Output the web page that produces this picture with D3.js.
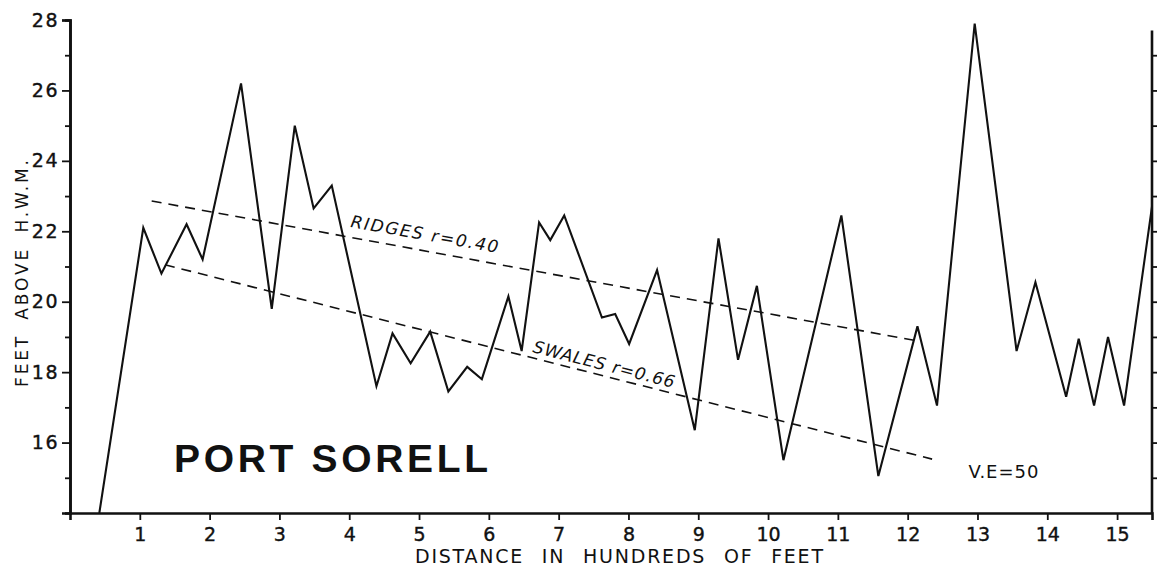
<!DOCTYPE html>
<html>
<head>
<meta charset="utf-8">
<script src="https://cdn.jsdelivr.net/npm/d3@7"></script>
<style>
	body { margin: 0; background: #fff; }
	text { font-family: "DejaVu Sans", sans-serif; fill: #111; }
</style>
</head>
<body>
<div id="wrapper"></div>
<script>
// profile surveyed across the beach ridges, in hundreds of feet / feet above H.W.M.
const distance = [0.42, 1.05, 1.31, 1.67, 1.90, 2.45, 2.89, 3.22, 3.49, 3.75, 4.39, 4.62, 4.88, 5.16, 5.42, 5.69, 5.90, 6.28, 6.47, 6.72, 6.88, 7.08, 7.62, 7.81, 8.01, 8.41, 8.95, 9.29, 9.57, 9.84, 10.22, 11.05, 11.58, 12.14, 12.42, 12.96, 13.56, 13.83, 14.27, 14.45, 14.67, 14.87, 15.10, 15.5];
const height = [14.0, 22.1, 20.8, 22.2, 21.2, 26.2, 19.8, 25.0, 22.65, 23.3, 17.6, 19.1, 18.25, 19.15, 17.45, 18.15, 17.8, 20.15, 18.6, 22.25, 21.75, 22.45, 19.55, 19.65, 18.8, 20.9, 16.35, 21.8, 18.35, 20.45, 15.5, 22.45, 15.05, 19.3, 17.05, 27.9, 18.6, 20.55, 17.3, 18.95, 17.05, 19.0, 17.05, 22.7];

// regression lines (end points)
const ridgeX = [1.17, 12.13];
const ridgeY = [22.86, 18.89];
const swaleX = [1.36, 12.35];
const swaleY = [21.05, 15.53];

const xTicks = [1, 2, 3, 4, 5, 6, 7, 8, 9, 10, 11, 12, 13, 14, 15];
const yLabels = [16, 18, 20, 22, 24, 26, 28];
const yMinor = [15, 17, 19, 21, 23, 25, 27];

async function drawProfile() {

	// 1. Dimensions

	const width = 1159;
	const heightPx = 571;
	const margin = { top: 20, right: 7, bottom: 58, left: 70 };

	// 2. Canvas

	const svg = d3.select("#wrapper")
		.append("svg")
		.attr("width", width)
		.attr("height", heightPx);

	// 3. Scales

	const x = d3.scaleLinear().domain([0, 15.5]).range([margin.left, width - margin.right]);
	const y = d3.scaleLinear().domain([14, 28]).range([heightPx - margin.bottom, margin.top]);

	// 4. Axes

	const axes = svg.append("g");

	const left = axes.append("g")
		.attr("transform", `translate(${x(0)},0)`)
		.call(d3.axisLeft(y).tickValues(yLabels).tickSize(8).tickPadding(3).tickFormat(d3.format("d")));
	left.append("g").call(d3.axisLeft(y).tickValues(yMinor).tickSize(5).tickFormat(""));

	const bottom = axes.append("g")
		.attr("transform", `translate(0,${y(14)})`)
		.call(d3.axisBottom(x).tickValues(xTicks).tickSize(7).tickPadding(8).tickFormat(d3.format("d")));

	const right = axes.append("g")
		.attr("transform", `translate(${x(15.5)},0)`)
		.call(d3.axisRight(y).tickValues(d3.range(15, 28)).tickSize(5).tickFormat(""));
	right.select(".domain").attr("d", `M0,${y(14)}V${y(27.7)}`);

	axes.selectAll(".domain").attr("stroke", "#111").attr("stroke-width", 2.6);
	axes.selectAll(".tick line").attr("stroke", "#111").attr("stroke-width", 1.8);
	axes.selectAll(".tick text")
		.attr("fill", "#111")
		.attr("stroke", "#111")
		.attr("stroke-width", 0.4)
		.style("font-family", "'DejaVu Sans', sans-serif")
		.style("font-size", "19px");
	left.selectAll(".tick text").style("letter-spacing", "1.5px");

	// 5. Profile and trend lines

	const line = d3.line().x(d => x(d[0])).y(d => y(d[1]));

	svg.append("path")
		.datum(d3.zip(distance, height))
		.attr("d", line)
		.attr("fill", "none")
		.attr("stroke", "#111")
		.attr("stroke-width", 2.1)
		.attr("stroke-linejoin", "miter");

	[[ridgeX, ridgeY], [swaleX, swaleY]].forEach(([xs, ys]) => {
		svg.append("path")
			.datum(d3.zip(xs, ys))
			.attr("d", line)
			.attr("fill", "none")
			.attr("stroke", "#111")
			.attr("stroke-width", 1.6)
			.attr("stroke-dasharray", "10,7");
	});

	// 6. Labels

	const slanted = (label, x0, y0, x1, y1) => {
		const px0 = x(x0), py0 = y(y0), px1 = x(x1), py1 = y(y1);
		const angle = Math.atan2(py1 - py0, px1 - px0) * 180 / Math.PI;
		svg.append("text")
			.attr("transform", `translate(${px0},${py0}) rotate(${angle})`)
			.attr("textLength", Math.hypot(px1 - px0, py1 - py0))
			.attr("lengthAdjust", "spacing")
			.style("font-size", "17px")
			.style("font-style", "italic")
			.text(label);
	};
	slanted("RIDGES r=0.40", 4.01, 22.12, 6.12, 21.39);
	slanted("SWALES r=0.66", 6.62, 18.57, 8.64, 17.55);

	svg.append("text")
		.attr("x", x(1.49))
		.attr("y", y(15.16))
		.attr("textLength", x(5.99) - x(1.49))
		.attr("lengthAdjust", "spacing")
		.style("font-family", "'Liberation Sans', sans-serif")
		.style("font-size", "39px")
		.style("font-weight", "bold")
		.text("PORT SORELL");

	svg.append("text")
		.attr("x", x(12.87))
		.attr("y", y(14.99))
		.attr("textLength", 70)
		.attr("lengthAdjust", "spacing")
		.style("font-size", "18px")
		.text("V.E=50");

	svg.append("text")
		.attr("x", 415)
		.attr("y", 563)
		.attr("textLength", 408)
		.attr("lengthAdjust", "spacing")
		.style("font-size", "19px")
		.style("word-spacing", "10px")
		.text("DISTANCE IN HUNDREDS OF FEET");

	svg.append("text")
		.attr("transform", "translate(28,387) rotate(-90)")
		.attr("textLength", 227)
		.attr("lengthAdjust", "spacing")
		.style("font-size", "17px")
		.style("word-spacing", "6px")
		.text("FEET ABOVE H.W.M.");
}

drawProfile();
</script>
</body>
</html>
